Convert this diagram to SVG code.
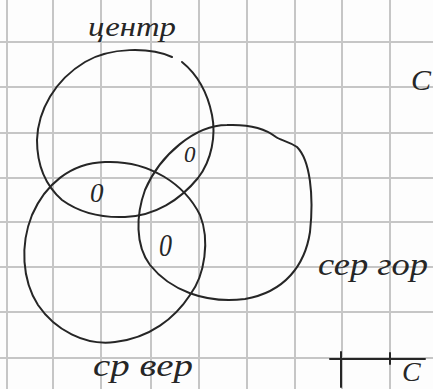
<svg xmlns="http://www.w3.org/2000/svg" width="433" height="389" viewBox="0 0 433 389">
<style>
.grid{stroke:#c6c6c6;stroke-width:2;fill:none}
.ink{stroke:#262626;stroke-width:2;fill:none;stroke-linecap:round;stroke-linejoin:round}
.hw{font-family:"Liberation Serif","DejaVu Serif",serif;font-style:italic;fill:#262626}
</style>
<rect width="433" height="389" fill="#fdfdfd"/>
<g id="grid" class="grid">
<path d="M7,0V389M53,0V389M101,0V389M151,0V389M199,0V389M247,0V389M295,0V389M342,0V389M390,0V389"/>
<path d="M0,42H433M0,87H433M0,133H433M0,178H433M0,222H433M0,267H433M0,312H433M0,358H433"/>
</g>
<g id="circle-center">
<path class="ink" d="M172,57 C150,47 110,47 85,62 C55,80 38,110 37,140 C37,165 45,185 62,200 C80,213 100,218 125,217 C155,216 180,200 198,178 C212,160 216,135 212,115 C208,95 198,75 182,62"/>
<text class="hw" x="88" y="36" font-size="27" textLength="88" lengthAdjust="spacingAndGlyphs">центр</text>
</g>
<g id="circle-bottom">
<path class="ink" d="M105,162 C150,160 185,185 200,215 C210,240 205,275 190,295 C175,318 150,338 115,342 C85,346 55,330 38,305 C22,280 20,245 32,215 C45,185 70,163 105,162 Z"/>
<text class="hw" x="93" y="376" font-size="32" textLength="100" lengthAdjust="spacingAndGlyphs">ср вер</text>
</g>
<g id="circle-right">
<path class="ink" d="M227,125 C252,124 266,129 276,137 C280,140 288,141 297,147 C310,160 314,195 310,232 C305,265 285,292 245,299 C205,304 170,290 150,265 C135,245 136,215 145,190 C160,155 195,125 227,125 Z"/>
<text class="hw" x="318" y="275" font-size="32" textLength="110" lengthAdjust="spacingAndGlyphs">сер гор</text>
</g>
<g id="zeros">
<text class="hw" x="184" y="162" font-size="23">0</text>
<text class="hw" x="90" y="202" font-size="27">0</text>
<text class="hw" x="159" y="256" font-size="32" textLength="13" lengthAdjust="spacingAndGlyphs">0</text>
</g>
<g id="margin-marks">
<path class="ink" d="M330,359H425M341,352V387M390,353V364"/>
<text class="hw" x="402" y="381" font-size="28">С</text>
<text class="hw" x="411" y="90" font-size="30">С</text>
</g>
</svg>
